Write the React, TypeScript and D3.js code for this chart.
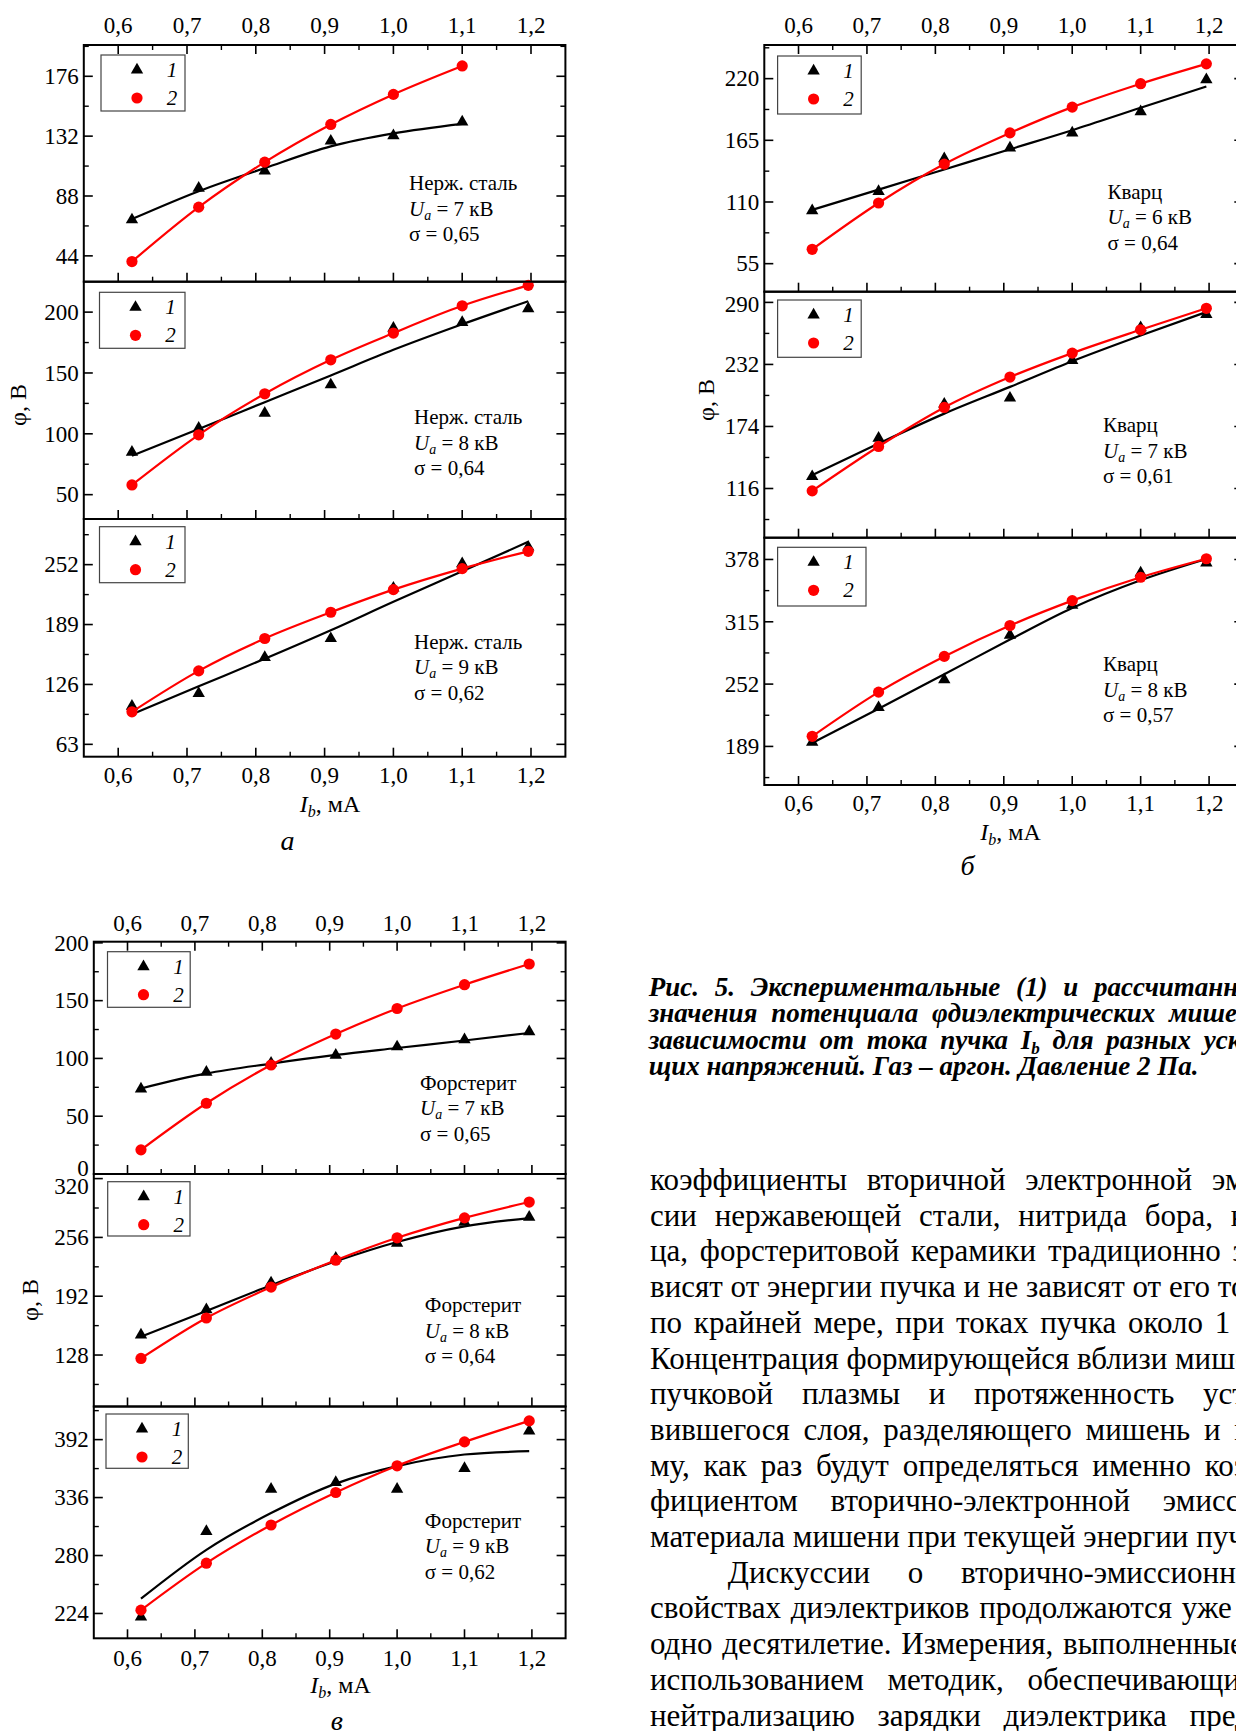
import React from 'react';
import * as d3 from 'd3';

// Beam current values (mA) at which the potential was measured
const currents = [0.62, 0.717, 0.813, 0.909, 1.0, 1.1, 1.196];
const xTicks = [0.6, 0.7, 0.8, 0.9, 1.0, 1.1, 1.2];
const xMinor = [0.65, 0.75, 0.85, 0.95, 1.05, 1.15];
const xTickLabels = ['0,6', '0,7', '0,8', '0,9', '1,0', '1,1', '1,2'];

// а — stainless steel
const steel7Exp = [70.5, 93.8, 106.5, 128.4, 132.3, 142.4];
const steel7Calc = [39.8, 79.8, 112.9, 140.6, 162.7, 183.6];
const steel7Fit = [71, 91.5, 108.5, 124.5, 134, 141];
const steel8Exp = [85, 104.7, 117, 140.3, 186.9, 191.5, 202.8];
const steel8Calc = [58, 99.2, 132.9, 160.8, 182.8, 205.2, 222];
const steel8Fit = [82, 104, 126, 148, 169, 190, 209];
const steel9Exp = [103.2, 116.6, 154.4, 174.3, 227.4, 253, 270.5];
const steel9Calc = [97.2, 140.3, 174.3, 201.9, 225.7, 247.8, 266];
const steel9Fit = [94.5, 124, 153, 183, 213, 245, 276];

// б — quartz
const quartz6Exp = [102.2, 119.5, 148.6, 158.2, 171.6, 190.6, 219.1];
const quartz6Calc = [67.8, 109.1, 143.8, 171.6, 194.6, 215.5, 233.2];
const quartz6Fit = [103, 121, 139, 157, 174, 194, 213];
const quartz7Exp = [127.2, 163.1, 195, 200.6, 235.7, 266.3, 278.8];
const quartz7Calc = [113.8, 155.3, 191.8, 220.2, 242.6, 264.4, 284.5];
const quartz7Fit = [128.5, 158, 186, 211, 235, 259, 281];
const quartz8Exp = [193.4, 228.3, 256.4, 301.4, 331.9, 364.5, 374.6];
const quartz8Calc = [199.2, 243.9, 280, 311.2, 336.4, 360, 378.7];
const quartz8Fit = [192.5, 227, 262, 297, 329, 357, 378.5];

// в — forsterite
const forst7Exp = [73.7, 88.1, 96, 102.9, 110.1, 116.2, 123.1];
const forst7Calc = [20.9, 61.2, 94.3, 121.1, 143.2, 163.8, 181.7];
const forst7Fit = [74, 87, 95.5, 103, 109, 115.5, 122];
const forst8Exp = [150, 177.4, 206.6, 233.4, 249.7, 272.5, 278];
const forst8Calc = [124.3, 168.3, 201.9, 231.2, 255.6, 277.3, 294.5];
const forst8Fit = [148, 176, 204, 230, 251, 268, 277];
const forst9Exp = [220.7, 303.3, 344.1, 350.6, 344.1, 364.1, 400.4];
const forst9Calc = [227.2, 272.6, 309.5, 340.9, 366.7, 389.8, 410.1];
const forst9Fit = [238.3, 285.5, 321, 349.5, 366.4, 377.6, 380.8];

const captionLines = [
  'Рис. 5. Экспериментальные (1) и рассчитанные (2)',
  'значения потенциала φдиэлектрических мишеней в',
  '', // line with subscript, built below
  'щих напряжений. Газ – аргон. Давление 2 Па.',
];

const bodyLines = [
  'коэффициенты вторичной электронной эмис-',
  'сии нержавеющей стали, нитрида бора, квар-',
  'ца, форстеритовой керамики традиционно за-',
  'висят от энергии пучка и не зависят от его тока,',
  'по крайней мере, при токах пучка около 1 мА.',
  'Концентрация формирующейся вблизи мишени',
  'пучковой плазмы и протяженность устано-',
  'вившегося слоя, разделяющего мишень и плаз-',
  'му, как раз будут определяться именно коэф-',
  'фициентом вторично-электронной эмиссии',
  'материала мишени при текущей энергии пучка.',
  'Дискуссии о вторично-эмиссионных',
  'свойствах диэлектриков продолжаются уже не',
  'одно десятилетие. Измерения, выполненные с',
  'использованием методик, обеспечивающих',
  'нейтрализацию зарядки диэлектрика пред-',
];

const W = 1236;
const H = 1731;
const serif = '"Liberation Serif", "Times New Roman", serif';

interface PanelSpec {
  material: string;
  ua: number;
  sigma: string;
  xs: number[];
  exp: number[];
  calc: number[];
  fit: number[];
  yDomain: [number, number];
  yTicks: number[];
  yMinor: number[];
}

const figures = [
  {
    letter: 'а',
    left: 83.8, right: 565.4, bounds: [45, 281.7, 519, 756.7],
    topLabelY: 25, bottomLabelY: 775, titleX: 330, titleY: 804, letterX: 287.5, letterY: 842, phiX: 18, phiY: 405,
    legends: [[101, 55, 84, 56], [99.5, 292.3, 85.5, 56], [99.5, 526.7, 85.5, 56]],
    notes: [[409, 183.3], [414, 417], [414, 641.7]],
    panels: [
      { material: 'Нерж. сталь', ua: 7, sigma: '0,65', xs: currents.slice(0, 6), exp: steel7Exp, calc: steel7Calc, fit: steel7Fit,
        yDomain: [25, 199], yTicks: [44, 88, 132, 176], yMinor: [66, 110, 154, 198] },
      { material: 'Нерж. сталь', ua: 8, sigma: '0,64', xs: currents, exp: steel8Exp, calc: steel8Calc, fit: steel8Fit,
        yDomain: [30, 225], yTicks: [50, 100, 150, 200], yMinor: [75, 125, 175] },
      { material: 'Нерж. сталь', ua: 9, sigma: '0,62', xs: currents, exp: steel9Exp, calc: steel9Calc, fit: steel9Fit,
        yDomain: [50, 300], yTicks: [63, 126, 189, 252], yMinor: [94.5, 157.5, 220.5, 283.5] },
    ] as PanelSpec[],
  },
  {
    letter: 'б',
    left: 764.3, right: 1243.3, bounds: [45, 291.7, 537.7, 785],
    topLabelY: 25, bottomLabelY: 803.3, titleX: 1010.6, titleY: 832.3, letterX: 967.6, letterY: 867, phiX: 706, phiY: 400,
    legends: [[777.6, 56, 83.6, 58], [777.6, 300, 83.6, 57.3], [777.6, 547.3, 88.4, 58.7]],
    notes: [[1107.5, 191.7], [1103, 425], [1103, 664.3]],
    panels: [
      { material: 'Кварц', ua: 6, sigma: '0,64', xs: currents, exp: quartz6Exp, calc: quartz6Calc, fit: quartz6Fit,
        yDomain: [30, 250], yTicks: [55, 110, 165, 220], yMinor: [82.5, 137.5, 192.5, 247.5] },
      { material: 'Кварц', ua: 7, sigma: '0,61', xs: currents, exp: quartz7Exp, calc: quartz7Calc, fit: quartz7Fit,
        yDomain: [70, 300], yTicks: [116, 174, 232, 290], yMinor: [87, 145, 203, 261] },
      { material: 'Кварц', ua: 8, sigma: '0,57', xs: currents, exp: quartz8Exp, calc: quartz8Calc, fit: quartz8Fit,
        yDomain: [150, 400], yTicks: [189, 252, 315, 378], yMinor: [157.5, 220.5, 283.5, 346.5] },
    ] as PanelSpec[],
  },
  {
    letter: 'в',
    left: 93.8, right: 565.6, bounds: [941.7, 1174, 1406.5, 1638.3],
    topLabelY: 923.3, bottomLabelY: 1658.3, titleX: 340.6, titleY: 1685, letterX: 336.8, letterY: 1722, phiX: 30, phiY: 1300,
    legends: [[107.5, 951.7, 82.7, 55.6], [107.7, 1181.7, 82.3, 54.3], [106, 1414, 82.3, 54.3]],
    notes: [[420, 1082.7], [424.8, 1305], [424.8, 1520.7]],
    panels: [
      { material: 'Форстерит', ua: 7, sigma: '0,65', xs: currents, exp: forst7Exp, calc: forst7Calc, fit: forst7Fit,
        yDomain: [0, 201], yTicks: [0, 50, 100, 150, 200], yMinor: [25, 75, 125, 175] },
      { material: 'Форстерит', ua: 8, sigma: '0,64', xs: currents, exp: forst8Exp, calc: forst8Calc, fit: forst8Fit,
        yDomain: [72, 325], yTicks: [128, 192, 256, 320], yMinor: [96, 160, 224, 288] },
      { material: 'Форстерит', ua: 9, sigma: '0,62', xs: currents, exp: forst9Exp, calc: forst9Calc, fit: forst9Fit,
        yDomain: [200, 424], yTicks: [224, 280, 336, 392], yMinor: [252, 308, 364, 420] },
    ] as PanelSpec[],
  },
];

const triangle = d3.symbol().type(d3.symbolTriangle).size(66)() as string;

function Panel({ spec, x, left, right, y0, y1, first, last, legend, note }: {
  spec: PanelSpec; x: d3.ScaleLinear<number, number>; left: number; right: number;
  y0: number; y1: number; first: boolean; last: boolean; legend: number[]; note: number[];
}) {
  const y = d3.scaleLinear().domain(spec.yDomain).range([y1, y0]);
  const line = d3.line<number>()
    .x((_, i) => x(spec.xs[i]))
    .y(d => y(d))
    .curve(d3.curveMonotoneX);
  // labels at a shared panel edge are nudged inside, as in the original
  const labelY = (v: number) => {
    let p = y(v);
    if (!first) p = Math.max(p, y0 + 12);
    if (!last) p = Math.min(p, y1 - 6);
    return p;
  };
  const [lx, ly, lw, lh] = legend;
  const [nx, ny] = note;
  return (
    <g>
      {/* y ticks both sides, pointing inward */}
      {spec.yTicks.map(t => (
        <g key={'yt' + t}>
          <line x1={left} x2={left + 9} y1={y(t)} y2={y(t)} stroke="#000" strokeWidth={1.6} />
          <line x1={right - 9} x2={right} y1={y(t)} y2={y(t)} stroke="#000" strokeWidth={1.6} />
          <text x={left - 5} y={labelY(t)} dy="0.34em" textAnchor="end" fontSize={23} fontFamily={serif}>{t}</text>
        </g>
      ))}
      {spec.yMinor.filter(t => t <= spec.yDomain[1]).map(t => (
        <g key={'ym' + t}>
          <line x1={left} x2={left + 5} y1={y(t)} y2={y(t)} stroke="#000" strokeWidth={1.4} />
          <line x1={right - 5} x2={right} y1={y(t)} y2={y(t)} stroke="#000" strokeWidth={1.4} />
        </g>
      ))}
      {/* x ticks: bottom of every panel, top of the first one */}
      {xTicks.map(t => (
        <g key={'xt' + t}>
          <line x1={x(t)} x2={x(t)} y1={y1} y2={y1 - 9} stroke="#000" strokeWidth={1.6} />
          {first && <line x1={x(t)} x2={x(t)} y1={y0} y2={y0 + 9} stroke="#000" strokeWidth={1.6} />}
        </g>
      ))}
      {xMinor.map(t => (
        <g key={'xm' + t}>
          <line x1={x(t)} x2={x(t)} y1={y1} y2={y1 - 5} stroke="#000" strokeWidth={1.4} />
          {first && <line x1={x(t)} x2={x(t)} y1={y0} y2={y0 + 5} stroke="#000" strokeWidth={1.4} />}
        </g>
      ))}

      {/* fitted line and experimental points (1) */}
      <path d={line(spec.fit) || ''} fill="none" stroke="#000" strokeWidth={2.2} />
      {spec.exp.map((v, i) => (
        <path key={'e' + i} d={triangle} transform={`translate(${x(spec.xs[i])},${y(v)})`} fill="#000" />
      ))}
      {/* calculated values (2) */}
      <path d={line(spec.calc) || ''} fill="none" stroke="#ff0000" strokeWidth={2.2} />
      {spec.calc.map((v, i) => (
        <circle key={'c' + i} cx={x(spec.xs[i])} cy={y(v)} r={5.6} fill="#ff0000" />
      ))}

      {/* legend */}
      <rect x={lx} y={ly} width={lw} height={lh} fill="#fff" stroke="#444" strokeWidth={1.2} />
      <path d={triangle} transform={`translate(${lx + 36},${ly + 15})`} fill="#000" />
      <text x={lx + 71} y={ly + 15} dy="0.34em" textAnchor="middle" fontStyle="italic" fontSize={21} fontFamily={serif}>1</text>
      <circle cx={lx + 36} cy={ly + 43} r={5.6} fill="#ff0000" />
      <text x={lx + 71} y={ly + 43} dy="0.34em" textAnchor="middle" fontStyle="italic" fontSize={21} fontFamily={serif}>2</text>

      {/* annotation */}
      <g fontSize={21} fontFamily={serif}>
        <text x={nx} y={ny + 7}>{spec.material}</text>
        <text x={nx} y={ny + 32.5}>
          <tspan fontStyle="italic">U</tspan>
          <tspan fontStyle="italic" fontSize={14} dy={4}>a</tspan>
          <tspan dy={-4}>{` = ${spec.ua} кВ`}</tspan>
        </text>
        <text x={nx} y={ny + 58}>{`σ = ${spec.sigma}`}</text>
      </g>

      <rect x={left} y={y0} width={right - left} height={y1 - y0} fill="none" stroke="#000" strokeWidth={2} />
    </g>
  );
}

function Figure({ fig }: { fig: typeof figures[number] }) {
  const x = d3.scaleLinear().domain([0.55, 1.25]).range([fig.left, fig.right]);
  const b = fig.bounds;
  return (
    <g>
      {fig.panels.map((p, i) => (
        <Panel key={i} spec={p} x={x} left={fig.left} right={fig.right} y0={b[i]} y1={b[i + 1]}
          first={i === 0} last={i === fig.panels.length - 1} legend={fig.legends[i]} note={fig.notes[i]} />
      ))}
      {xTicks.map((t, i) => (
        <g key={t} fontSize={23} fontFamily={serif} textAnchor="middle">
          <text x={x(t)} y={fig.topLabelY} dy="0.34em">{xTickLabels[i]}</text>
          <text x={x(t)} y={fig.bottomLabelY} dy="0.34em">{xTickLabels[i]}</text>
        </g>
      ))}
      <text x={fig.titleX} y={fig.titleY} dy="0.34em" textAnchor="middle" fontSize={24} fontFamily={serif}>
        <tspan fontStyle="italic">I</tspan>
        <tspan fontStyle="italic" fontSize={16} dy={5}>b</tspan>
        <tspan dy={-5}>, мА</tspan>
      </text>
      <text x={fig.letterX} y={fig.letterY} dy="0.3em" textAnchor="middle" fontStyle="italic" fontSize={28} fontFamily={serif}>
        {fig.letter}
      </text>
      <text transform={`translate(${fig.phiX},${fig.phiY}) rotate(-90)`} dy="0.34em" textAnchor="middle" fontSize={24} fontFamily={serif}>
        φ, В
      </text>
    </g>
  );
}

const captionSpacing = [9, 7, 6, 0];
const bodySpacing = [12, 10, 4, 0, 4, 0, 21, 6, 6, 25, 0, 30, 2, 2, 16, 15];

export default function App() {
  return (
    <svg width={W} height={H} viewBox={`0 0 ${W} ${H}`}
      style={{ position: 'absolute', left: 0, top: 0, background: '#fff', display: 'block' }}>
      <rect width={W} height={H} fill="#fff" />
      {figures.map(f => <Figure key={f.letter} fig={f} />)}

      {/* caption */}
      <g fontFamily={serif} fontSize={27} fontWeight="bold" fontStyle="italic">
        {captionLines.map((t, i) => (
          <text key={i} x={648.7} y={987.5 + i * 26.5 + 8} wordSpacing={captionSpacing[i]}>
            {i === 2 ? (
              <>
                <tspan>зависимости от тока пучка I</tspan>
                <tspan fontSize={17} dy={5}>b</tspan>
                <tspan dy={-5}> для разных ускоряю-</tspan>
              </>
            ) : t}
          </text>
        ))}
      </g>

      {/* body text */}
      <g fontFamily={serif} fontSize={31}>
        {bodyLines.map((t, i) => (
          <text key={i} x={i === 11 ? 727.8 : 650} y={1180 + i * 35.7 + 10} wordSpacing={bodySpacing[i]}>{t}</text>
        ))}
      </g>
    </svg>
  );
}
